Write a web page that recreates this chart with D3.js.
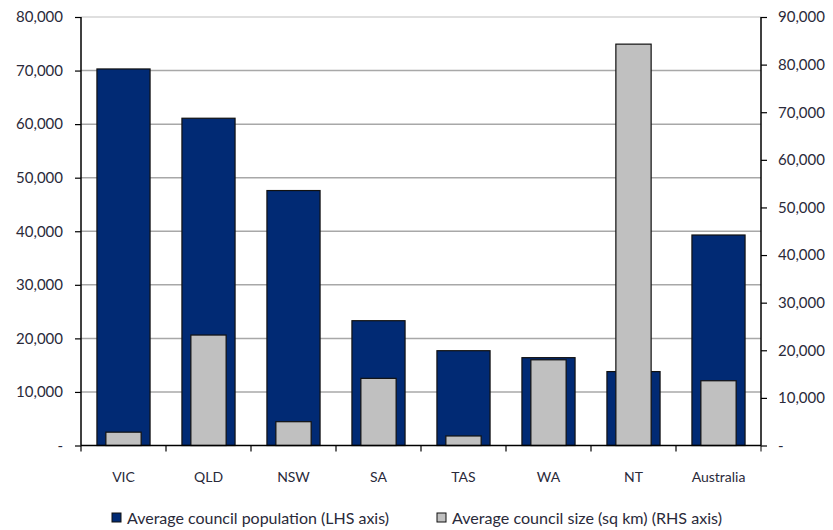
<!DOCTYPE html>
<html>
<head>
<meta charset="utf-8">
<script src="https://cdn.jsdelivr.net/npm/d3@7"></script>
<style>
  html, body { margin: 0; padding: 0; background: #fff; }
  svg { display: block; font-family: Lato, "Open Sans", sans-serif; }
</style>
</head>
<body>
<svg id="chart" width="833" height="530"></svg>
<script>
// Council averages by jurisdiction
const categories = ["VIC", "QLD", "NSW", "SA", "TAS", "WA", "NT", "Australia"];
const avgPopulation = [70300, 61100, 47600, 23300, 17700, 16400, 13800, 39300]; // LHS axis
const avgSizeSqKm   = [2800, 23200, 5000, 14100, 2000, 18000, 84300, 13600];    // RHS axis
const leftTicks  = [0, 10000, 20000, 30000, 40000, 50000, 60000, 70000, 80000];
const rightTicks = [0, 10000, 20000, 30000, 40000, 50000, 60000, 70000, 80000, 90000];
const seriesNames = ["Average council population  (LHS axis)", "Average council size (sq km) (RHS axis)"];

const svg = d3.select("#chart");
const m = { left: 81, right: 761, top: 17, bottom: 445.5 };
const blue = "#012a74", grey = "#c0c0c0", textCol = "#2a2a3a";

const x = d3.scaleBand().domain(categories).range([m.left, m.right]).padding(0);
const yL = d3.scaleLinear().domain([0, 80000]).range([m.bottom, m.top]);
const yR = d3.scaleLinear().domain([0, 90000]).range([m.bottom, m.top]);
const fmt = v => v === 0 ? "-" : d3.format(",")(v);

// horizontal gridlines follow the left axis
svg.append("g").selectAll("line").data(leftTicks.filter(d => d > 0)).join("line")
  .attr("x1", m.left).attr("x2", m.right)
  .attr("y1", d => yL(d)).attr("y2", d => yL(d))
  .attr("stroke", d => d === 80000 ? "#d4d4d4" : "#a8a8a8").attr("stroke-width", 1.5);

// population bars (wide, behind)
const bw = x.bandwidth() * 0.625, gw = x.bandwidth() * 0.415;
svg.append("g").selectAll("rect").data(categories).join("rect")
  .attr("x", (d) => x(d) + (x.bandwidth() - bw) / 2)
  .attr("y", (d, i) => yL(avgPopulation[i]))
  .attr("width", bw)
  .attr("height", (d, i) => m.bottom - yL(avgPopulation[i]))
  .attr("fill", blue).attr("stroke", "#111").attr("stroke-width", 1.2);

// council size bars (narrow, in front)
svg.append("g").selectAll("rect").data(categories).join("rect")
  .attr("x", (d) => x(d) + (x.bandwidth() - gw) / 2)
  .attr("y", (d, i) => yR(avgSizeSqKm[i]))
  .attr("width", gw)
  .attr("height", (d, i) => m.bottom - yR(avgSizeSqKm[i]))
  .attr("fill", grey).attr("stroke", "#111").attr("stroke-width", 1.2);

// axes
const axL = svg.append("g").attr("transform", `translate(${m.left},0)`)
  .call(d3.axisLeft(yL).tickValues(leftTicks).tickFormat(fmt).tickSize(6).tickPadding(12));
const axR = svg.append("g").attr("transform", `translate(${m.right},0)`)
  .call(d3.axisRight(yR).tickValues(rightTicks).tickFormat(fmt).tickSize(6).tickPadding(11));
const axB = svg.append("g").attr("transform", `translate(0,${m.bottom})`)
  .call(d3.axisBottom(x).tickSize(6).tickPadding(21));
// category ticks sit on band boundaries
axB.selectAll(".tick line").attr("transform", `translate(${-x.bandwidth() / 2},0)`);
axB.append("line").attr("x1", m.right).attr("x2", m.right).attr("y1", 0).attr("y2", 6).attr("stroke", "#000");

[axL, axR, axB].forEach(a => {
  a.select(".domain").attr("stroke", "#000").attr("stroke-width", 1.5);
  a.selectAll(".tick line").attr("stroke", "#000").attr("stroke-width", 1.2);
  a.selectAll("text").attr("fill", textCol).attr("font-size", 15).attr("font-family", "Lato, sans-serif");
});
axL.select(".domain").attr("d", `M0,${m.top}V${m.bottom}`);
axR.select(".domain").attr("d", `M0,${m.top}V${m.bottom}`);
axB.select(".domain").attr("d", `M${m.left},0H${m.right}`);
axB.selectAll("text").attr("font-size", 14);

// legend
const leg = svg.append("g").attr("font-size", 15).attr("fill", textCol);
const legItems = [{ x: 112, fill: blue, w: 262 }, { x: 437, fill: grey, w: 270 }];
legItems.forEach((it, i) => {
  leg.append("rect").attr("x", it.x).attr("y", 513).attr("width", 9).attr("height", 9)
    .attr("fill", it.fill).attr("stroke", "#111").attr("stroke-width", 1);
  leg.append("text").attr("x", it.x + 15).attr("y", 524).attr("fill", textCol)
    .attr("textLength", it.w).attr("lengthAdjust", "spacingAndGlyphs")
    .text(seriesNames[i]);
});
</script>
</body>
</html>
